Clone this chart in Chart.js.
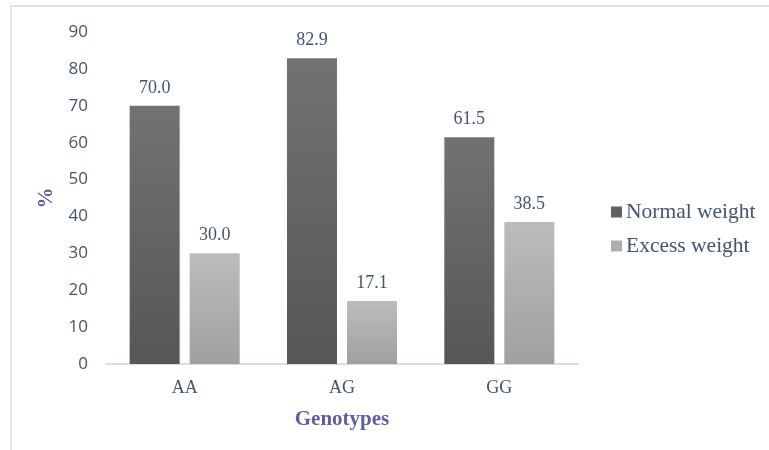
<!DOCTYPE html>
<html>
<head>
<meta charset="utf-8">
<script src="https://cdn.jsdelivr.net/npm/chart.js@4.4.1/dist/chart.umd.min.js"></script>
<style>
  html, body { margin: 0; padding: 0; background: #ffffff; }
  #wrap { width: 769px; height: 450px; }
</style>
</head>
<body>
<div id="wrap"><canvas id="c" width="769" height="450"></canvas></div>
<script>
// Share (%) of normal and excess weight by genotype
const genotypes = ['AA', 'AG', 'GG'];
const normalWeight = [70.0, 82.9, 61.5];
const excessWeight = [30.0, 17.1, 38.5];
const yTicks = [0, 10, 20, 30, 40, 50, 60, 70, 80, 90];
const seriesNames = ['Normal weight', 'Excess weight'];

const SERIF = '"Liberation Serif", "Times New Roman", serif';
const SANS = '"Open Sans", "Noto Sans", sans-serif';
const TEXT = '#44546A';
const TITLE = '#5F5F9C';

// Vertical gradient running over each bar's own height
function barGradient(top, bottom) {
  return (ctx) => {
    const chart = ctx.chart;
    if (!chart.chartArea || ctx.type !== 'data') return bottom;
    const y = chart.scales.y;
    const y0 = y.getPixelForValue(0);
    const y1 = y.getPixelForValue(ctx.raw);
    const g = chart.ctx.createLinearGradient(0, y1, 0, y0);
    g.addColorStop(0, top);
    g.addColorStop(1, bottom);
    return g;
  };
}

// Light frame round the whole figure
const framePlugin = {
  id: 'frame',
  beforeDraw(chart) {
    const c = chart.ctx;
    c.save();
    c.fillStyle = '#ffffff';
    c.fillRect(0, 0, chart.width, chart.height);
    c.strokeStyle = '#E1E5EB';
    c.lineWidth = 2;
    c.strokeRect(11, 6, chart.width + 20, chart.height + 20);
    c.restore();
  }
};

// Value written above each bar
const valueLabels = {
  id: 'valueLabels',
  afterDatasetsDraw(chart) {
    const c = chart.ctx;
    c.save();
    c.font = '18px ' + SERIF;
    c.fillStyle = TEXT;
    c.textAlign = 'center';
    c.textBaseline = 'bottom';
    chart.data.datasets.forEach((ds, i) => {
      const meta = chart.getDatasetMeta(i);
      meta.data.forEach((bar, j) => {
        c.fillText(ds.data[j].toFixed(1), bar.x, bar.y - 9);
      });
    });
    c.restore();
  }
};

// Compact legend to the right of the plot: small square hugging the name
const sideLegend = {
  id: 'sideLegend',
  afterDraw(chart) {
    const c = chart.ctx;
    const area = chart.chartArea;
    const x0 = area.right + 33;
    const rowGap = 34;
    const yMid = 229;
    c.save();
    c.font = '21.5px ' + SERIF;
    c.textBaseline = 'middle';
    c.textAlign = 'left';
    chart.data.datasets.forEach((ds, i) => {
      const cy = yMid + (i - 0.5) * rowGap;
      c.fillStyle = ds.legendColor;
      c.fillRect(x0, cy - 5.5, 11, 11);
      c.fillStyle = TEXT;
      c.fillText(ds.label, x0 + 15, cy);
    });
    c.restore();
  }
};

new Chart(document.getElementById('c'), {
  type: 'bar',
  data: {
    labels: genotypes,
    datasets: [
      {
        label: seriesNames[0],
        data: normalWeight,
        backgroundColor: barGradient('#727272', '#565656'),
        legendColor: '#606060'
      },
      {
        label: seriesNames[1],
        data: excessWeight,
        backgroundColor: barGradient('#BCBCBC', '#A0A0A0'),
        legendColor: '#ADADAD'
      }
    ]
  },
  options: {
    responsive: false,
    animation: false,
    devicePixelRatio: 1,
    layout: { padding: { left: 22, right: 191, top: 32, bottom: 18 } },
    datasets: {
      bar: { categoryPercentage: 0.763, barPercentage: 0.833 }
    },
    plugins: {
      tooltip: { enabled: false },
      legend: { display: false }
    },
    scales: {
      x: {
        grid: { display: false, drawTicks: false },
        border: { display: true, color: '#D9DEE4', width: 2 },
        ticks: { font: { family: SERIF, size: 18 }, color: TEXT, padding: 13 },
        title: {
          display: true,
          text: 'Genotypes',
          font: { family: SERIF, size: 21, weight: 'bold' },
          color: TITLE,
          padding: { top: 4, bottom: 0 }
        },
        afterFit(scale) { scale.height = 68; }
      },
      y: {
        min: 0,
        max: 90,
        afterBuildTicks(scale) { scale.ticks = yTicks.map(v => ({ value: v })); },
        grid: { display: false, drawTicks: false },
        border: { display: false },
        ticks: { font: { family: SANS, size: 17 }, color: TEXT, padding: 18 },
        title: {
          display: true,
          text: '%',
          font: { family: SERIF, size: 21, weight: 'bold' },
          color: TITLE,
          padding: { top: 12, bottom: 0 }
        },
        afterFit(scale) { scale.width = 84; }
      }
    }
  },
  plugins: [framePlugin, valueLabels, sideLegend]
});
</script>
</body>
</html>
